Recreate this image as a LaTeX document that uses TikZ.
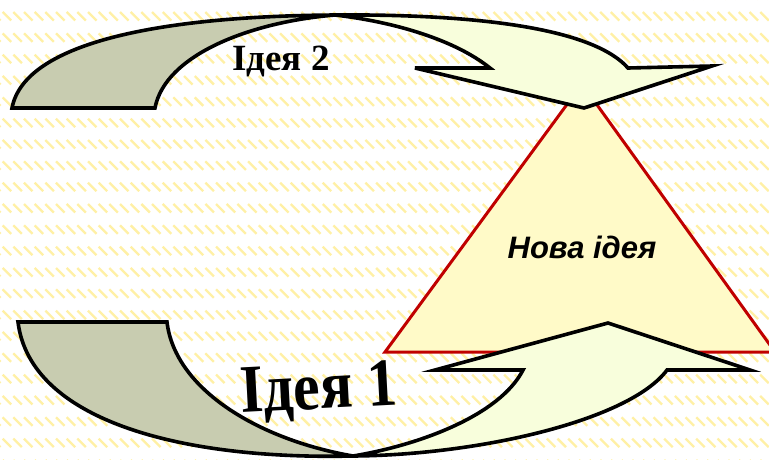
\documentclass[tikz,border=0pt]{standalone}
\usepackage{fontspec}
\setmainfont{Liberation Serif}
\newfontfamily\arialfont{Liberation Sans}
\definecolor{hatch}{RGB}{255,240,165}
\definecolor{tailgray}{RGB}{200,204,176}
\definecolor{arrowlight}{RGB}{248,254,220}
\definecolor{trifill}{RGB}{255,250,200}
\definecolor{trired}{RGB}{192,0,0}
\begin{document}
\begin{tikzpicture}[x=1pt,y=-1pt,
  arrowline/.style={draw=black,line width=3.6pt,line join=miter,miter limit=8},
  hatchline/.style={draw=hatch,line width=2.3pt},
  titlefont/.style={font=\bfseries\fontsize{37}{37}\selectfont,inner sep=0pt},
  bigfont/.style={font=\bfseries\fontsize{68}{68}\selectfont,inner sep=0pt},
  novafont/.style={font=\arialfont\bfseries\itshape\fontsize{31}{31}\selectfont,inner sep=0pt}]
\useasboundingbox (0,0) rectangle (769,459);
\fill[white] (0,0) rectangle (769,459);
\begin{scope}
\clip (0,0) rectangle (769,459);
\foreach \r in {0,...,22} {
  \path[hatchline] \foreach \c in {0,...,73} { ({\c*10.67-8},{\r*21.33-9.3}) -- ++(8.5,8.5) };
}
% triangle
\draw[trired,line width=3pt,fill=trifill,line join=miter] (582,84) -- (385,352) -- (775,352) -- cycle;
% top arrow
\draw[arrowline,fill=tailgray] (12,108) -- (155,108) .. controls (165,55) and (250,22) .. (335,15) .. controls (170,16) and (25,40) .. (12,108) -- cycle;
\draw[arrowline,fill=arrowlight] (335,15) .. controls (460,14) and (590,25) .. (628,68) -- (712,66) -- (584,108) -- (415,68) -- (490,68) .. controls (455,40) and (395,22) .. (335,15) -- cycle;
% bottom arrow
\draw[arrowline,fill=tailgray] (18,322) -- (167,322) .. controls (175,390) and (260,440) .. (353,456) .. controls (180,460) and (30,420) .. (18,322) -- cycle;
\draw[arrowline,fill=arrowlight] (353,456) .. controls (480,455) and (630,420) .. (667,370) -- (750,370) -- (608,323) -- (435,370) -- (523,370) .. controls (500,415) and (420,445) .. (353,456) -- cycle;
\end{scope}
% texts
\node[titlefont,anchor=base west] (idea2) at (232,70) {Ідея 2};
\node[bigfont,anchor=base west,rotate=3,xscale=0.88] (idea1) at (241,413) {Ідея 1};
\node[novafont] (nova) at (582,247) {Нова ідея};
\end{tikzpicture}
\end{document}
